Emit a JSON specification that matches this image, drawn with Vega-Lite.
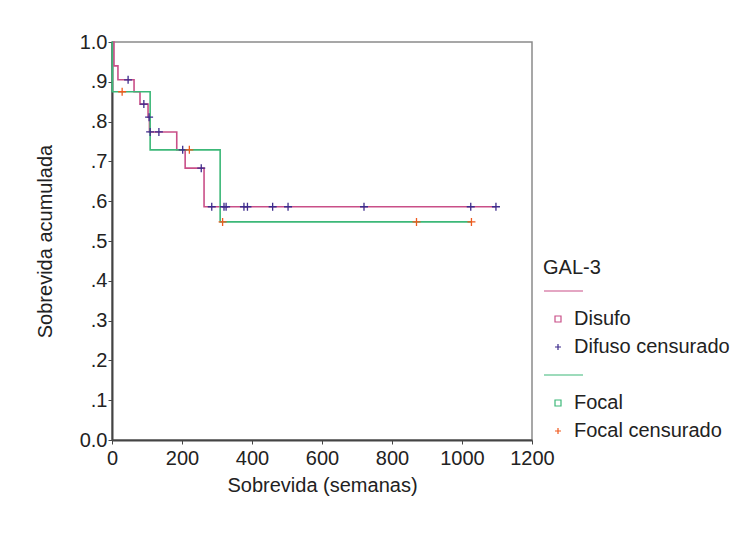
{
  "$schema": "https://vega.github.io/schema/vega-lite/v6.json",
  "width": 420,
  "height": 398,
  "autosize": {"type": "none"},
  "padding": {"left": 112, "top": 42, "right": 203, "bottom": 109},
  "background": "white",
  "config": {
    "font": "Liberation Sans",
    "view": {"stroke": "#8a8a8a", "strokeWidth": 1.5},
    "axis": {
      "grid": false,
      "domainColor": "#444",
      "domainWidth": 2,
      "tickColor": "#444",
      "tickSize": 4,
      "labelFontSize": 20,
      "labelColor": "#222",
      "titleFontSize": 20,
      "titleFontWeight": "normal",
      "titleColor": "#222",
      "labelFont": "Liberation Sans",
      "titleFont": "Liberation Sans"
    },
    "legend": {
      "titleFontSize": 20,
      "titleFontWeight": "normal",
      "titleColor": "#222",
      "labelFontSize": 20,
      "labelColor": "#222",
      "labelFont": "Liberation Sans",
      "titleFont": "Liberation Sans"
    }
  },
  "datasets": {
    "curves": [
      {"grupo": "Disufo", "t": 0, "s": 1.0},
      {"grupo": "Disufo", "t": 5.7, "s": 0.94},
      {"grupo": "Disufo", "t": 17, "s": 0.905},
      {"grupo": "Disufo", "t": 63, "s": 0.875},
      {"grupo": "Disufo", "t": 80, "s": 0.844},
      {"grupo": "Disufo", "t": 103, "s": 0.811},
      {"grupo": "Disufo", "t": 107, "s": 0.774},
      {"grupo": "Disufo", "t": 185, "s": 0.729},
      {"grupo": "Disufo", "t": 209, "s": 0.683},
      {"grupo": "Disufo", "t": 263, "s": 0.586},
      {"grupo": "Disufo", "t": 1097, "s": 0.586},
      {"grupo": "Focal", "t": 0, "s": 1.0},
      {"grupo": "Focal", "t": 0.8, "s": 0.875},
      {"grupo": "Focal", "t": 109, "s": 0.729},
      {"grupo": "Focal", "t": 309, "s": 0.548},
      {"grupo": "Focal", "t": 1027, "s": 0.548}
    ],
    "censored": [
      {"grupo": "Difuso censurado", "t": 46, "s": 0.905},
      {"grupo": "Difuso censurado", "t": 91, "s": 0.844},
      {"grupo": "Difuso censurado", "t": 106, "s": 0.811},
      {"grupo": "Difuso censurado", "t": 109, "s": 0.774},
      {"grupo": "Difuso censurado", "t": 134, "s": 0.774},
      {"grupo": "Difuso censurado", "t": 202, "s": 0.729},
      {"grupo": "Difuso censurado", "t": 255, "s": 0.683},
      {"grupo": "Difuso censurado", "t": 285, "s": 0.586},
      {"grupo": "Difuso censurado", "t": 320, "s": 0.586},
      {"grupo": "Difuso censurado", "t": 326, "s": 0.586},
      {"grupo": "Difuso censurado", "t": 377, "s": 0.586},
      {"grupo": "Difuso censurado", "t": 387, "s": 0.586},
      {"grupo": "Difuso censurado", "t": 459, "s": 0.586},
      {"grupo": "Difuso censurado", "t": 503, "s": 0.586},
      {"grupo": "Difuso censurado", "t": 720, "s": 0.586},
      {"grupo": "Difuso censurado", "t": 1025, "s": 0.586},
      {"grupo": "Difuso censurado", "t": 1097, "s": 0.586},
      {"grupo": "Focal censurado", "t": 29, "s": 0.875},
      {"grupo": "Focal censurado", "t": 221, "s": 0.729},
      {"grupo": "Focal censurado", "t": 316, "s": 0.548},
      {"grupo": "Focal censurado", "t": 870, "s": 0.548},
      {"grupo": "Focal censurado", "t": 1027, "s": 0.548}
    ]
  },
  "encoding": {
    "x": {
      "field": "t",
      "type": "quantitative",
      "scale": {"domain": [0, 1200], "nice": false},
      "axis": {
        "title": "Sobrevida (semanas)",
        "values": [0, 200, 400, 600, 800, 1000, 1200],
        "format": "d",
        "labelPadding": 4,
        "titlePadding": 7,
        "labelFlush": false
      }
    },
    "y": {
      "field": "s",
      "type": "quantitative",
      "scale": {"domain": [0, 1], "nice": false},
      "axis": {
        "title": "Sobrevida acumulada",
        "values": [0, 0.1, 0.2, 0.3, 0.4, 0.5, 0.6, 0.7, 0.8, 0.9, 1.0],
        "labelExpr": "datum.value < 0.05 ? '0.0' : datum.value > 0.95 ? '1.0' : '.' + round(datum.value * 10)",
        "labelPadding": 1,
        "titlePadding": 24,
        "labelFlush": false
      }
    }
  },
  "layer": [
    {
      "data": {"name": "curves"},
      "transform": [{"filter": "datum.grupo == 'Disufo'"}],
      "mark": {"type": "line", "interpolate": "step-after", "strokeWidth": 1.6, "color": "#c94f88"}
    },
    {
      "data": {"name": "curves"},
      "transform": [{"filter": "datum.grupo == 'Focal'"}],
      "mark": {"type": "line", "interpolate": "step-after", "strokeWidth": 1.6, "color": "#3cb878"}
    },
    {
      "data": {"name": "censored"},
      "mark": {"type": "point", "filled": false, "size": 64, "strokeWidth": 1.3, "opacity": 1},
      "encoding": {
        "color": {
          "field": "grupo",
          "type": "nominal",
          "scale": {
            "domain": ["l1", "Disufo", "Difuso censurado", "l2", "Focal", "Focal censurado"],
            "range": ["#c94f88", "#c94f88", "#3d2b8c", "#3cb878", "#3cb878", "#f05a1e"]
          },
          "legend": {
            "title": "GAL-3",
            "orient": "none",
            "legendX": 431,
            "legendY": 216,
            "symbolSize": 36,
            "symbolStrokeWidth": 1.2,
            "symbolOffset": 5,
            "labelOffset": 6,
            "rowPadding": 8,
            "titlePadding": 3,
            "labelExpr": "datum.label == 'l1' || datum.label == 'l2' ? '' : datum.label"
          }
        },
        "shape": {
          "field": "grupo",
          "type": "nominal",
          "scale": {
            "domain": ["l1", "Disufo", "Difuso censurado", "l2", "Focal", "Focal censurado"],
            "range": ["M-4.67,0H8.33", "square", "M-1,0H1M0,-1V1", "M-4.67,0H8.33", "square", "M-1,0H1M0,-1V1"]
          },
          "legend": {
            "title": "GAL-3",
            "orient": "none",
            "legendX": 431,
            "legendY": 216,
            "symbolSize": 36,
            "symbolStrokeWidth": 1.2,
            "symbolOffset": 5,
            "labelOffset": 6,
            "rowPadding": 8,
            "titlePadding": 3,
            "labelExpr": "datum.label == 'l1' || datum.label == 'l2' ? '' : datum.label"
          }
        }
      }
    }
  ]
}
